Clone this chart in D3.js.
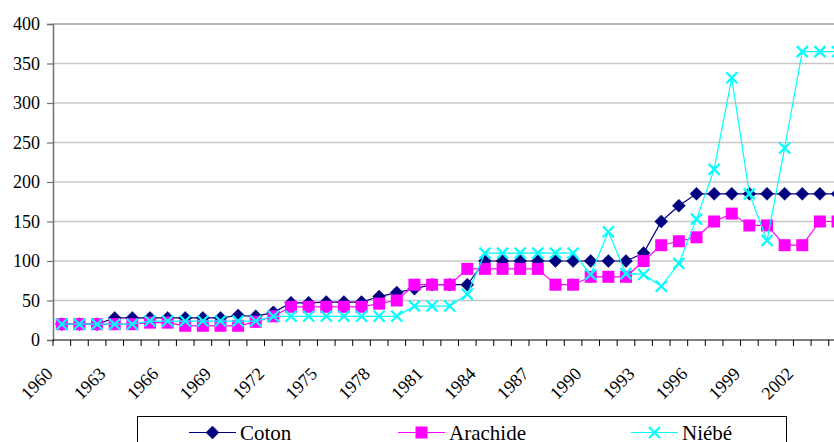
<!DOCTYPE html>
<html>
<head>
<meta charset="utf-8">
<script src="https://cdn.jsdelivr.net/npm/d3@7"></script>
<style>
  html, body { margin: 0; padding: 0; background: #fff; }
  svg { display: block; }
</style>
</head>
<body>
<svg id="chart" width="834" height="442"></svg>
<script>
const years = [1960,1961,1962,1963,1964,1965,1966,1967,1968,1969,
  1970,1971,1972,1973,1974,1975,1976,1977,1978,1979,
  1980,1981,1982,1983,1984,1985,1986,1987,1988,1989,
  1990,1991,1992,1993,1994,1995,1996,1997,1998,1999,
  2000,2001,2002,2003,2004];
const coton = [20,20,20,28,28,28,28,28,28,28,
  31,30,35,47,47,48,48,48,55,60,
  65,70,70,70,100,100,100,100,100,100,
  100,100,100,110,150,170,185,185,185,185,
  185,185,185,185,185];
const arachide = [20,20,20,20,20,22,22,18,18,18,
  18,23,30,42,42,42,42,42,46,50,
  70,70,70,90,90,90,90,90,70,70,
  80,80,80,100,120,125,130,150,160,145,
  145,120,120,150,150];
const niebe = [20,20,20,20,20,24,24,24,24,24,
  24,24,30,30,30,30,30,30,30,30,
  43,43,43,58,110,110,110,110,110,110,
  83,137,84,83,68,97,153,216,332,185,
  126,243,365,365,365];
const yTicks = [0,50,100,150,200,250,300,350,400];
const xLabelYears = [1960,1963,1966,1969,1972,1975,1978,1981,1984,1987,1990,1993,1996,1999,2002];
const seriesNames = ["Coton","Arachide","Niébé"];

(function () {
const FONT = "Liberation Serif";
const svg = d3.select("#chart");
const mLeft = 53, mTop = 24, mBottom = 340;
const band = 17.63;
const x = d3.scaleBand().domain(years).range([mLeft, mLeft + band * years.length]).padding(0);
const y = d3.scaleLinear().domain([0, 400]).range([mBottom, mTop]);
const cx = d => x(d) + x.bandwidth() / 2;

// gridlines
svg.append("g").selectAll("line").data(yTicks.filter(t => t > 0)).join("line")
  .attr("x1", mLeft).attr("x2", x.range()[1])
  .attr("y1", d => y(d)).attr("y2", d => y(d))
  .attr("stroke", d => d === 400 ? "#a0a0a0" : "#c8c8c8")
  .attr("stroke-width", 1.5);

// y axis
const yAxis = svg.append("g").attr("transform", `translate(${mLeft},0)`)
  .call(d3.axisLeft(y).tickValues(yTicks).tickSize(6).tickPadding(7));
yAxis.attr("font-family", FONT).attr("font-size", 18);
yAxis.select(".domain").attr("stroke", "#707070").attr("stroke-width", 1.5);
yAxis.selectAll(".tick line").attr("stroke", "#707070").attr("stroke-width", 1.2);
yAxis.selectAll("text").style("font-family", FONT).style("font-size", "18px").attr("fill", "#000");

// x axis: ticks at category boundaries
const xg = svg.append("g").attr("font-family", FONT);
xg.append("line").attr("x1", mLeft).attr("x2", x.range()[1])
  .attr("y1", mBottom).attr("y2", mBottom).attr("stroke", "#000").attr("stroke-width", 1.2);
xg.selectAll("line.tk").data(years.concat([null])).join("line").attr("class", "tk")
  .attr("x1", (d, i) => mLeft + i * x.bandwidth()).attr("x2", (d, i) => mLeft + i * x.bandwidth())
  .attr("y1", mBottom).attr("y2", mBottom + 6).attr("stroke", "#000").attr("stroke-width", 1);
xg.selectAll("text").data(xLabelYears).join("text")
  .attr("transform", d => `translate(${cx(d) - 8},${mBottom + 35}) rotate(-45)`)
  .attr("text-anchor", "end").attr("fill", "#000")
  .style("font-family", FONT).style("font-size", "18px")
  .text(d => d);

// series
const lineGen = vals => d3.line().x((d, i) => cx(years[i])).y(d => y(d))(vals);
const colors = ["#000080", "#ff00ff", "#00ffff"];
const data = [coton, arachide, niebe];

function drawMarker(g, type, px, py) {
  if (type === 0) {
    g.append("path").attr("d", `M${px},${py-6.5}L${px+6.5},${py}L${px},${py+6.5}L${px-6.5},${py}Z`)
      .attr("fill", colors[0]).attr("stroke", colors[0]).attr("stroke-width", 0.5);
  } else if (type === 1) {
    g.append("rect").attr("x", px - 6).attr("y", py - 6).attr("width", 12).attr("height", 12)
      .attr("fill", colors[1]);
  } else {
    g.append("path").attr("d", `M${px-5.5},${py-5.5}L${px+5.5},${py+5.5}M${px-5.5},${py+5.5}L${px+5.5},${py-5.5}`)
      .attr("stroke", colors[2]).attr("stroke-width", 2.2).attr("fill", "none");
  }
}

data.forEach((vals, k) => {
  const g = svg.append("g");
  g.append("path").attr("d", lineGen(vals)).attr("fill", "none")
    .attr("stroke", colors[k]).attr("stroke-width", 1.2);
  vals.forEach((v, i) => drawMarker(g, k, cx(years[i]), y(v)));
});

// legend
const lg = svg.append("g").attr("font-family", FONT);
lg.append("rect").attr("x", 137.5).attr("y", 416.5).attr("width", 649).attr("height", 40)
  .attr("fill", "#fff").attr("stroke", "#000").attr("stroke-width", 1);
const legendPos = [189, 398, 631];
seriesNames.forEach((name, k) => {
  const lx = legendPos[k], ly = 432.5;
  lg.append("line").attr("x1", lx).attr("x2", lx + 47).attr("y1", ly).attr("y2", ly)
    .attr("stroke", colors[k]).attr("stroke-width", 1.2);
  drawMarker(lg, k, lx + 23.5, ly);
  lg.append("text").attr("x", lx + 51).attr("y", ly + 7.5).attr("fill", "#000")
    .style("font-family", FONT).style("font-size", "21px").text(name);
});
})();
</script>
</body>
</html>
